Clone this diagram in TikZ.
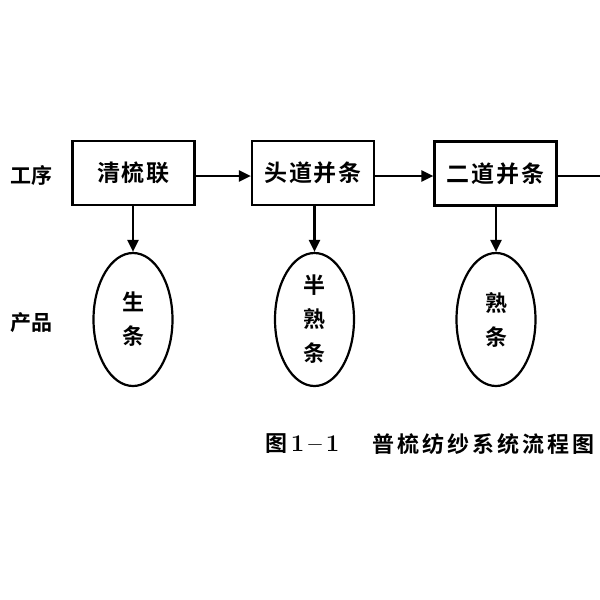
\documentclass[tikz,border=0pt]{standalone}
\usepackage{fontspec}
\newfontfamily\cjk{Noto Sans CJK SC Bold}
\newfontfamily\cjkbox[LetterSpace=8]{Noto Sans CJK SC Bold}
\newfontfamily\cjkcap[LetterSpace=14]{Noto Sans CJK SC Bold}
\usetikzlibrary{arrows.meta,shapes.geometric}
\begin{document}
\begin{tikzpicture}[x=1pt,y=-1pt,
  line width=2.2pt,
  proc/.style={draw,rectangle,minimum width=122pt,minimum height=64pt,font=\cjkbox\fontsize{23}{24}\selectfont,inner sep=0pt},
  prod/.style={draw,ellipse,minimum width=79pt,minimum height=133pt,inner sep=0pt,font=\cjk\fontsize{22}{34}\selectfont,align=center},
  lbl/.style={font=\cjk\fontsize{21}{24}\selectfont,inner sep=0pt},
  arr/.style={-{Triangle[length=12pt,width=11pt]}}
]
\useasboundingbox (0,0) rectangle (600,600);
\fill[white] (0,0) rectangle (600,600);
\node[lbl] (l1) at (31,175) {工序};
\node[lbl] (l2) at (31,323) {产品};
\node[proc] (b1) at (133.5,173) {清梳联};
\node[proc] (b2) at (313,173) {头道并条};
\node[proc] (b3) at (495.5,173.5) {二道并条};
\coordinate (c4) at (612,176);
\node[prod] (e1) at (133,319.5) {生\\条};
\node[prod] (e2) at (314.5,319.5) {半\\熟\\条};
\node[prod] (e3) at (496,319.5) {熟\\条};
\draw[arr] (b1.east |- 0,176) -- (b2.west |- 0,176);
\draw[arr] (b2.east |- 0,176) -- (b3.west |- 0,176);
\draw[arr] (b3.east |- 0,176) -- (c4);
\draw[arr] (e1.north |- b1.south) -- (e1.north);
\draw[arr] (e2.north |- b2.south) -- (e2.north);
\draw[arr] (e3.north |- b3.south) -- (e3.north);
\node[font=\cjk\fontsize{22}{24}\selectfont,anchor=west,inner sep=0pt] (cap1) at (264,444) {图\,{\rmfamily\bfseries\fontsize{24}{24}\selectfont 1\,--\,1}};
\node[font=\cjkcap\fontsize{22}{24}\selectfont,anchor=west,inner sep=0pt] (cap2) at (371,444) {普梳纺纱系统流程图};
\end{tikzpicture}
\end{document}
